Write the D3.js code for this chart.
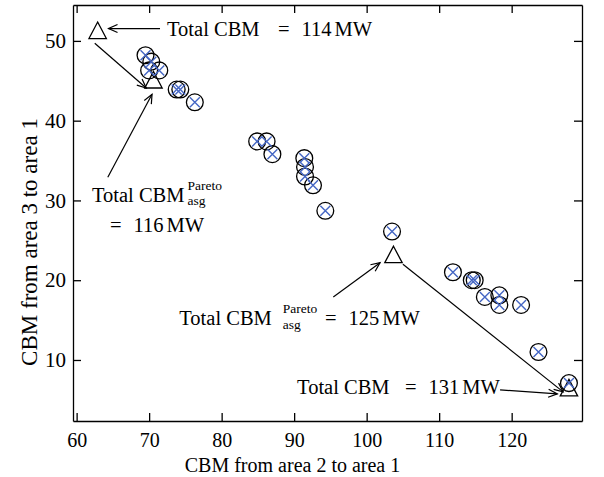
<!DOCTYPE html>
<html>
<head>
<meta charset="utf-8">
<script src="https://cdn.jsdelivr.net/npm/d3@7"></script>
<style>
  body { margin: 0; background: #fff; }
  text { font-family: "Liberation Serif", "DejaVu Serif", serif; fill: #000; }
</style>
</head>
<body>
<div id="chart"></div>
<script>

// solutions found (circle + blue cross)
var cbm21 = [69.5, 70.3, 70.0, 71.4, 73.8, 74.3, 76.3, 84.9, 86.2, 87.0, 91.4, 91.5, 91.5, 92.6,
             94.3, 103.5, 111.9, 114.5, 114.9, 116.3, 118.3, 118.3, 121.3, 123.7, 127.9];
var cbm31 = [48.2, 47.4, 46.3, 46.3, 43.9, 43.9, 42.3, 37.4, 37.4, 35.8, 35.3, 34.2, 33.0, 31.9,
             28.7, 26.1, 21.0, 20.0, 20.0, 17.9, 18.1, 16.9, 16.9, 11.0, 7.1];

// marked solutions (triangles)
var markX = [62.9, 70.6, 103.7, 127.9];
var markY = [51.3, 45.1, 23.2, 6.5];

var xTicks = [60, 70, 80, 90, 100, 110, 120];
var yTicks = [10, 20, 30, 40, 50];

// set the dimensions and margins of the graph
var margin = {top: 5, right: 22, bottom: 56, left: 73},
  width = 604 - margin.left - margin.right,
  height = 477 - margin.top - margin.bottom;

var svg = d3.select("#chart")
.append("svg")
  .attr("width", 604)
  .attr("height", 477)
.append("g")
  .attr("transform", "translate(" + margin.left + "," + margin.top + ")");

var x = d3.scaleLinear().domain([59.5, 129.7]).range([0, width]);
var y = d3.scaleLinear().domain([2.35, 54.5]).range([height, 0]);

// arrow head
svg.append("defs").append("marker")
  .attr("id", "head")
  .attr("markerUnits", "userSpaceOnUse")
  .attr("viewBox", "-10 -5 12 10")
  .attr("markerWidth", 12).attr("markerHeight", 10)
  .attr("refX", 0).attr("refY", 0)
  .attr("orient", "auto")
.append("path")
  .attr("d", "M-9,-4L0,0L-9,4")
  .attr("fill", "none")
  .attr("stroke", "#000")
  .attr("stroke-width", 1.2);

// axes with inward ticks on all four sides
var bottom = svg.append("g")
  .attr("transform", "translate(0," + height + ")")
  .call(d3.axisBottom(x).tickValues(xTicks).tickSizeInner(-8).tickSizeOuter(0).tickPadding(12));
var left = svg.append("g")
  .call(d3.axisLeft(y).tickValues(yTicks).tickSizeInner(-8).tickSizeOuter(0).tickPadding(7));
var top_ = svg.append("g")
  .call(d3.axisTop(x).tickValues(xTicks).tickSizeInner(-8).tickSizeOuter(0).tickFormat(""));
var right = svg.append("g")
  .attr("transform", "translate(" + width + ",0)")
  .call(d3.axisRight(y).tickValues(yTicks).tickSizeInner(-8).tickSizeOuter(0).tickFormat(""));

[bottom, left, top_, right].forEach(function(a) {
  a.selectAll("path, line").attr("stroke", "#000").attr("stroke-width", 1.3);
  a.selectAll("text").attr("font-family", null).attr("fill", "#000");
});
bottom.selectAll("text").attr("font-size", 20);
left.selectAll("text").attr("font-size", 21);

// axis titles
svg.append("text")
  .attr("x", 292.5 - margin.left)
  .attr("y", 472 - margin.top)
  .attr("text-anchor", "middle")
  .attr("font-size", 20)
  .text("CBM from area 2 to area 1");

svg.append("text")
  .attr("transform", "translate(" + (37 - margin.left) + "," + (242 - margin.top) + ") rotate(-90)")
  .attr("text-anchor", "middle")
  .attr("font-size", 23)
  .text("CBM from area 3 to area 1");

// arrows (data coordinates)
var arrows = [
  [71.5, 51.55, 64.4, 51.55],
  [62.5, 49.7, 69.6, 44.1],
  [64.3, 32.9, 70.4, 43.3],
  [95.4, 17.9, 101.85, 22.2],
  [105.0, 22.0, 127.1, 6.0],
  [118.4, 6.25, 126.3, 5.75]
];
svg.selectAll(".arrow")
  .data(arrows)
  .enter()
  .append("line")
    .attr("x1", d => x(d[0]))
    .attr("y1", d => y(d[1]))
    .attr("x2", d => x(d[2]))
    .attr("y2", d => y(d[3]))
    .attr("stroke", "#000")
    .attr("stroke-width", 1.2)
    .attr("marker-end", "url(#head)");

// triangles
svg.selectAll(".tri")
  .data(markX)
  .enter()
  .append("path")
    .attr("d", "M0,-8.5L8.7,8L-8.7,8Z")
    .attr("transform", (d, i) => "translate(" + x(d) + "," + y(markY[i]) + ")")
    .attr("fill", "none")
    .attr("stroke", "#000")
    .attr("stroke-width", 1.3);

// circles with crosses
svg.selectAll(".sol")
  .data(cbm21)
  .enter()
  .append("circle")
    .attr("cx", d => x(d))
    .attr("cy", (d, i) => y(cbm31[i]))
    .attr("r", 8.4)
    .attr("fill", "none")
    .attr("stroke", "#000")
    .attr("stroke-width", 1.3);

svg.selectAll(".cross")
  .data(cbm21)
  .enter()
  .append("path")
    .attr("d", "M-5,-5L5,5M-5,5L5,-5")
    .attr("transform", (d, i) => "translate(" + x(d) + "," + y(cbm31[i]) + ")")
    .attr("stroke", "#4466c4")
    .attr("stroke-width", 1.4);

// labels "Total CBM ... = N MW"
function totalLabel(x0, y0, pareto, gap) {
  var t = svg.append("text")
    .attr("x", x(x0)).attr("y", y(y0))
    .attr("font-size", 20.5)
    .text("Total CBM");
  if (pareto) {
    var px = x(x0) + t.node().getComputedTextLength() + gap;
    svg.append("text").attr("x", px).attr("y", y(y0) - 11.7).attr("font-size", 13.5).text("Pareto");
    svg.append("text").attr("x", px).attr("y", y(y0) + 3.5).attr("font-size", 13.5).text("asg");
  }
}
function valueLabel(x0, y0, num) {
  var t = svg.append("text")
    .attr("x", x(x0)).attr("y", y(y0))
    .attr("font-size", 20.5);
  t.append("tspan").text("=");
  t.append("tspan").attr("dx", 12).text(num);
  t.append("tspan").attr("dx", 3).text("MW");
}

totalLabel(72.47, 50.61, false, 0);
valueLabel(87.78, 50.61, "114");

totalLabel(62.12, 29.84, true, 3);
valueLabel(64.6, 26.08, "116");

totalLabel(74.16, 14.38, true, 11);
valueLabel(94.26, 14.38, "125");

totalLabel(90.4, 5.73, false, 0);
valueLabel(105.29, 5.73, "131");

</script>
</body>
</html>
